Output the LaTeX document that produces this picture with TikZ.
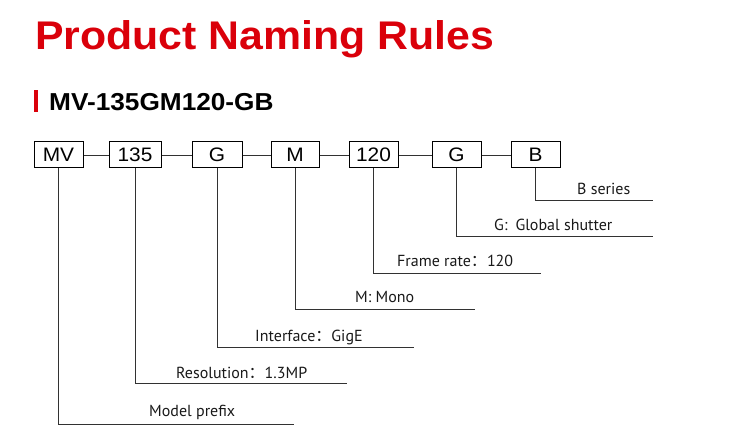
\documentclass[tikz,border=0pt]{standalone}
\usepackage{fontspec}
\usepackage{graphicx}
\setmainfont{PT Sans}
\newfontfamily\arialfont{Liberation Sans}
\newfontfamily\cjkfont{Noto Sans CJK SC}
\definecolor{titlered}{RGB}{218,0,10}
\definecolor{linegray}{RGB}{50,50,50}
\definecolor{textgray}{RGB}{25,25,25}
\newcommand{\fwc}{{\cjkfont ：}}
\newcommand{\wide}[1]{\scalebox{1.07}[1]{#1}}
\begin{document}
\begin{tikzpicture}[x=1pt,y=1pt,
  codebox/.style={draw=black, line width=1pt, minimum height=26pt, inner sep=0pt,
    font=\arialfont\fontsize{19.5}{19.5}\selectfont},
  link/.style={draw=linegray, line width=0.9pt},
  lbl/.style={anchor=base west, inner sep=0pt, text=textgray,
    font=\fontsize{16}{16}\selectfont}]
\useasboundingbox (0,0) rectangle (743,436);
% headings
\node[anchor=base west, inner sep=0pt, text=titlered,
  font=\arialfont\bfseries\fontsize{40}{40}\selectfont] (title) at (35,386)
  {\wide{Product Naming Rules}};
\fill[titlered] (34,324) rectangle (37.5,346);
\node[anchor=base west, inner sep=0pt, text=black,
  font=\arialfont\bfseries\fontsize{24.5}{24.5}\selectfont] (sub) at (49,325)
  {\wide{MV-135GM120-GB}};
% code boxes
\node[codebox, minimum width=49pt] (b1) at (58.5,281) {\wide{MV}};
\node[codebox, minimum width=52pt] (b2) at (135,281) {\wide{135}};
\node[codebox, minimum width=50pt] (b3) at (217,281) {\wide{G}};
\node[codebox, minimum width=48pt] (b4) at (295,281) {\wide{M}};
\node[codebox, minimum width=49pt] (b5) at (373.5,281) {\wide{120}};
\node[codebox, minimum width=49pt] (b6) at (456.5,281) {\wide{G}};
\node[codebox, minimum width=49pt] (b7) at (535.5,281) {\wide{B}};
\draw[link] (b1) -- (b2);
\draw[link] (b2) -- (b3);
\draw[link] (b3) -- (b4);
\draw[link] (b4) -- (b5);
\draw[link] (b5) -- (b6);
\draw[link] (b6) -- (b7);
% leader line ends
\coordinate (e7) at (653,236);
\coordinate (e6) at (653,200);
\coordinate (e5) at (541,163);
\coordinate (e4) at (475,127);
\coordinate (e3) at (414,89);
\coordinate (e2) at (347,53);
\coordinate (e1) at (294,12);
\draw[link] (b7.south) |- (e7);
\draw[link] (b6.south) |- (e6);
\draw[link] (b5.south) |- (e5);
\draw[link] (b4.south) |- (e4);
\draw[link] (b3.south) |- (e3);
\draw[link] (b2.south) |- (e2);
\draw[link] (b1.south) |- (e1);
% labels
\node[lbl] (l7) at (577,241) {B series};
\node[lbl] (l6) at (494,205) {G:\hspace{8pt}Global shutter};
\node[lbl] (l5) at (397,169) {Frame rate\fwc 120};
\node[lbl] (l4) at (355,133) {M: Mono};
\node[lbl] (l3) at (255,94) {Interface\fwc GigE};
\node[lbl] (l2) at (176,58) {Resolution\fwc 1.3MP};
\node[lbl] (l1) at (149,20) {Model prefix};
\end{tikzpicture}
\end{document}
